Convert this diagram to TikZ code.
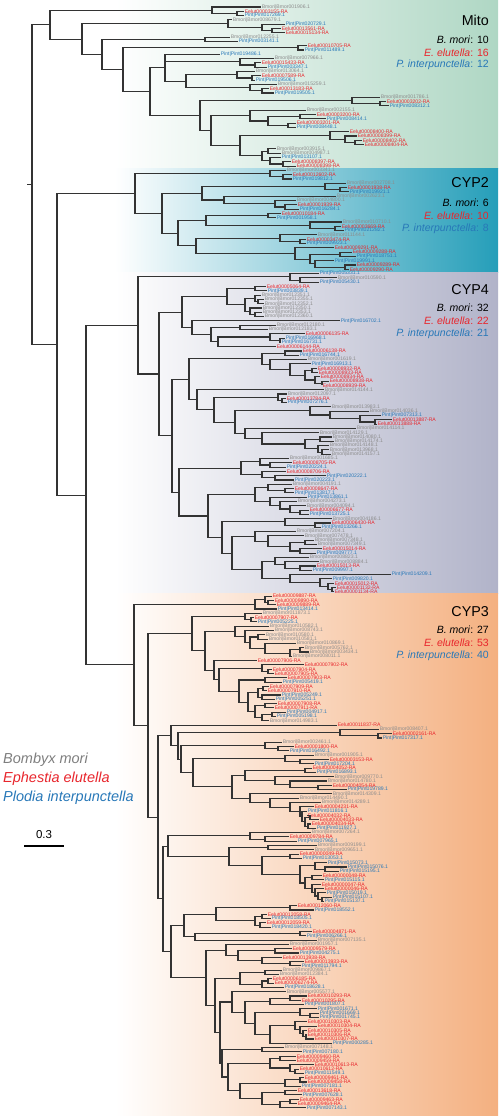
\documentclass[tikz,border=0pt]{standalone}
\usepackage{fontspec}
\setmainfont{Liberation Sans}
\usetikzlibrary{positioning}

\definecolor{colB}{HTML}{8C8C8C}
\definecolor{colE}{HTML}{E8262D}
\definecolor{colP}{HTML}{2878B8}
\definecolor{bandMito}{HTML}{AFD7C4}
\definecolor{bandCYPtwo}{HTML}{259EB9}
\definecolor{bandCYPfour}{HTML}{B1B3C9}
\definecolor{bandCYPthree}{HTML}{F4B080}

% tree helpers: leaves get y from a counter, clades sit midway between first and last child
\newcounter{leafno}
\newcounter{nodeno}
\newcommand\lblB[1]{Bmori|Bmor#1.1}
\newcommand\lblE[1]{Eelut#1-RA}
\newcommand\lblP[1]{Pint|Pint#1.1}
\newcommand\Addkid[2]{%
  \ifx\cfirst\empty
    \edef\cmin{#2}\def\cfirst{x}\edef\kids{#1}%
  \else
    \edef\kids{\kids,#1}%
  \fi
  \edef\cmax{#2}}
\newcommand\Lf[3]{%
  \stepcounter{leafno}%
  \pgfmathsetmacro\ly{7+4.3*(\theleafno-1)}%
  \coordinate (t\theleafno) at (#1,\ly);
  \node[leaf, text=col#2] (L\theleafno) at (t\theleafno) {\csname lbl#2\endcsname{#3}};
  \Addkid{t\theleafno}{\ly}}
\newcommand\Cl[2]{%
  \begingroup
    \stepcounter{nodeno}%
    \edef\myid{n\thenodeno}%
    \def\cfirst{}\def\kids{}%
    #2%
    \pgfmathsetmacro\myy{(\cmin+\cmax)/2}%
    \coordinate (\myid) at (#1,\myy);
    \foreach \k in \kids {\draw[branch] (\myid) |- (\k);}%
    \xdef\rety{\myy}\xdef\retname{\myid}%
  \endgroup
  \Addkid{\retname}{\rety}}

\begin{document}
\begin{tikzpicture}[x=1pt,y=-1pt]
% Define styles
\tikzstyle{branch} = [line width=1.1pt, black!80]
\tikzstyle{leaf} = [inner sep=0.6pt, anchor=west, font=\fontsize{5.1}{5.5}\selectfont]
\tikzstyle{head} = [anchor=east, inner sep=0pt, font=\fontsize{14.3}{16}\selectfont]
\tikzstyle{countlbl} = [anchor=east, inner sep=0pt, font=\fontsize{10.5}{12}\selectfont]
\tikzstyle{legendlbl} = [anchor=west, inner sep=0pt, font=\fontsize{14.5}{16}\selectfont\itshape]

\useasboundingbox (0,0) rectangle (498,1116);

% Coloured bands
\shade[left color=white, right color=bandMito] (115,0) rectangle (498,168);
\shade[left color=white, right color=bandCYPtwo] (115,168) rectangle (498,272);
\shade[left color=white, right color=bandCYPfour] (115,272) rectangle (498,593.5);
\shade[left color=white, right color=bandCYPthree] (115,593.5) rectangle (498,1116);

% Family labels
\node[head] (mito) at (489,20) {Mito};
\node[countlbl] (mitoB) at (489,40) {\textit{B. mori}: 10};
\node[countlbl, text=colE] (mitoE) at (489,52.5) {\textit{E. elutella}: 16};
\node[countlbl, text=colP] (mitoP) at (489,65) {\textit{P. interpunctella}: 12};
\node[head] (cyptwo) at (489,183) {CYP2};
\node[countlbl] (cyptwoB) at (489,203) {\textit{B. mori}: 6};
\node[countlbl, text=colE] (cyptwoE) at (489,216) {\textit{E. elutella}: 10};
\node[countlbl, text=colP] (cyptwoP) at (489,229) {\textit{P. interpunctella}: 8};
\node[head] (cypfour) at (489,290) {CYP4};
\node[countlbl] (cypfourB) at (489,308) {\textit{B. mori}: 32};
\node[countlbl, text=colE] (cypfourE) at (489,321) {\textit{E. elutella}: 22};
\node[countlbl, text=colP] (cypfourP) at (489,333.5) {\textit{P. interpunctella}: 21};
\node[head] (cypthree) at (489,612) {CYP3};
\node[countlbl] (cypthreeB) at (489,630) {\textit{B. mori}: 27};
\node[countlbl, text=colE] (cypthreeE) at (489,643) {\textit{E. elutella}: 53};
\node[countlbl, text=colP] (cypthreeP) at (489,656) {\textit{P. interpunctella}: 40};

% Legend and scale
\node[legendlbl, text=colB!90!black] (lgB) at (3,760) {Bombyx mori};
\node[legendlbl, text=colE] (lgE) at (3,779) {Ephestia elutella};
\node[legendlbl, text=colP] (lgP) at (3,798) {Plodia interpunctella};
\node[inner sep=0pt, font=\fontsize{11.5}{12}\selectfont] (scl) at (44,835) {0.3};
\coordinate (sbl) at (24,846);
\coordinate (sbr) at (64,846);
\draw[line width=1.1pt] (sbl) -- (sbr);

% Tree
\def\cfirst{}\def\kids{}
\Cl{32}{%
  % Mito
  \Cl{50}{%
    \Cl{212}{\Lf{261}{B}{001906}\Cl{237}{\Lf{244}{E}{00003155}\Lf{244}{P}{017269}}}
    \Cl{82}{%
      \Cl{228}{\Lf{232}{B}{008679}\Cl{262}{\Lf{285}{P}{020729}\Cl{272}{\Lf{281}{E}{00013561}\Lf{285}{E}{00015134}}}}
      \Cl{102}{%
        \Cl{205}{\Lf{230}{B}{012255}\Lf{238}{P}{003141}}
        \Cl{123}{%
          \Cl{298}{\Lf{307}{E}{00010705}\Lf{304}{P}{011489}}
          \Cl{150}{%
            \Cl{165}{%
              \Lf{220}{P}{019486}
              \Cl{240}{\Lf{274}{B}{007966}\Cl{255}{\Lf{261}{E}{00015433}\Lf{267}{P}{003347}}}
              \Cl{186}{%
                \Cl{237}{\Lf{255}{B}{013064}\Cl{252}{\Lf{261}{E}{00007589}\Lf{255}{P}{019506}}}
                \Cl{250}{\Lf{277}{B}{015259}\Cl{262}{\Lf{269}{E}{00013183}\Lf{274}{P}{019505}}}
              }%
            }%
            \Cl{200}{%
              \Cl{352}{\Lf{380}{B}{001786}\Cl{380}{\Lf{386}{E}{00003202}\Lf{389}{P}{008312}}}
              \Cl{211}{%
                \Cl{250}{\Lf{306}{B}{002155}\Cl{268}{\Cl{300}{\Lf{316}{E}{00003200}\Lf{326}{P}{008414}}\Cl{288}{\Lf{296}{E}{00003201}\Lf{296}{P}{008448}}}}
                \Cl{240}{%
                  \Cl{330}{\Lf{349}{E}{00008400}\Cl{345}{\Lf{357}{E}{00008399}\Cl{355}{\Lf{362}{E}{00008402}\Lf{364}{E}{00008404}}}}
                  \Cl{262}{\Cl{268}{\Lf{276}{B}{003915}\Lf{281}{B}{004987}}\Cl{270}{\Lf{281}{P}{013107}\Cl{283}{\Lf{291}{E}{00008397}\Lf{296}{E}{00008398}}}}
                }%
              }%
            }%
          }%
        }%
      }%
    }%
  }%
  \Cl{57}{%
    % CYP2
    \Cl{135}{%
      \Cl{270}{\Lf{286}{B}{003341}\Cl{283}{\Lf{292}{E}{00012602}\Lf{292}{P}{019812}}}
      \Cl{162}{%
        \Cl{202}{%
          \Cl{325}{\Lf{346}{B}{002708}\Cl{340}{\Lf{347}{E}{00001938}\Lf{349}{P}{019921}}}
          \Cl{224}{\Lf{336}{B}{002623}\Cl{275}{\Lf{296}{B}{004800}\Cl{285}{\Lf{297}{E}{00001939}\Lf{299}{P}{016284}}}}
        }%
        \Cl{178}{%
          \Cl{206}{\Cl{268}{\Lf{281}{E}{00010184}\Lf{276}{P}{001958}}\Cl{310}{\Lf{342}{B}{010710}\Cl{335}{\Lf{341}{E}{00003669}\Lf{344}{P}{021282}}}}
          \Cl{196}{%
            \Cl{280}{\Lf{317}{B}{011144}\Cl{300}{\Lf{306}{E}{00003474}\Lf{306}{P}{009923}}}
            \Cl{295}{\Lf{334}{E}{00009291}\Cl{310}{\Cl{340}{\Lf{352}{E}{00009288}\Lf{356}{P}{018751}}\Cl{315}{\Lf{334}{P}{019991}\Cl{345}{\Lf{356}{E}{00009289}\Lf{349}{E}{00009290}}}}}
          }%
        }%
      }%
    }%
    \Cl{86}{%
      % CYP4
      \Cl{138}{%
        \Cl{290}{\Lf{319}{P}{005331}\Cl{300}{\Lf{337}{B}{010590}\Lf{319}{P}{005430}}}
        \Cl{159}{%
          \Cl{182}{%
            \Cl{227}{\Cl{255}{\Lf{266}{E}{00005064}\Lf{267}{P}{003839}}\Cl{245}{\Cl{255}{\Lf{261}{B}{012351}\Cl{258}{\Lf{264}{B}{012355}\Lf{264}{B}{012352}}}\Cl{250}{\Lf{262}{B}{012350}\Cl{255}{\Lf{262}{B}{012353}\Lf{264}{B}{012360}}}}}
            \Cl{192}{\Lf{340}{P}{016702}\Cl{211}{\Cl{240}{\Lf{276}{B}{012180}\Lf{268}{B}{012183}}\Cl{218}{\Cl{270}{\Lf{305}{E}{00006135}\Cl{280}{\Lf{285}{P}{016968}\Lf{281}{P}{016731}}}\Lf{276}{E}{00006144}}}}
          }%
          \Cl{172}{%
            \Cl{189}{%
              \Cl{262}{\Cl{285}{\Lf{302}{E}{00006138}\Lf{299}{P}{016744}}\Cl{270}{\Lf{307}{B}{001619}\Cl{290}{\Lf{311}{P}{016913}\Cl{305}{\Cl{312}{\Lf{317}{E}{00008932}\Lf{318}{E}{00008933}}\Cl{315}{\Lf{320}{E}{00008934}\Cl{322}{\Lf{329}{E}{00008938}\Lf{322}{E}{00008939}}}}}}}
              \Cl{197}{%
                \Lf{324}{B}{014144}
                \Cl{214}{%
                  \Cl{278}{\Lf{287}{B}{012097}\Cl{282}{\Lf{286}{E}{00013784}\Lf{287}{P}{007276}}}
                  \Cl{235}{%
                    \Cl{310}{\Lf{331}{B}{013983}\Cl{330}{\Lf{369}{B}{014036}\Cl{360}{\Lf{381}{P}{007313}\Cl{375}{\Lf{392}{E}{00013887}\Lf{377}{E}{00013888}}}}}
                    \Cl{245}{\Lf{356}{B}{014114}\Cl{262}{\Lf{319}{B}{014129}\Cl{305}{\Cl{320}{\Lf{332}{B}{014080}\Lf{334}{B}{014174}}\Cl{318}{\Lf{329}{B}{014148}\Cl{322}{\Lf{329}{B}{013968}\Lf{331}{B}{014157}}}}}}
                  }%
                }%
              }%
            }%
            \Cl{179}{%
              \Cl{241}{\Cl{260}{\Lf{289}{B}{001685}\Cl{270}{\Lf{292}{E}{00008705}\Lf{286}{P}{020224}}}\Cl{262}{\Lf{286}{E}{00008706}\Cl{275}{\Lf{326}{P}{020222}\Lf{294}{P}{020223}}}}
              \Cl{208}{%
                \Cl{255}{\Cl{268}{\Lf{292}{B}{004191}\Cl{285}{\Lf{294}{E}{00008647}\Lf{294}{P}{013817}}}\Cl{270}{\Lf{307}{P}{013861}\Cl{280}{\Lf{297}{B}{004273}\Cl{290}{\Lf{306}{B}{004094}\Cl{300}{\Lf{309}{E}{00006677}\Lf{309}{P}{013725}}}}}}
                \Cl{222}{%
                  \Cl{285}{\Lf{332}{B}{004186}\Cl{315}{\Lf{331}{E}{00006430}\Lf{321}{P}{013266}}}
                  \Cl{232}{%
                    \Cl{255}{\Lf{296}{B}{007204}\Cl{268}{\Lf{304}{B}{007478}\Cl{290}{\Cl{305}{\Lf{314}{B}{007348}\Lf{317}{B}{007349}}\Cl{300}{\Lf{322}{E}{00015014}\Lf{316}{P}{009777}}}}}
                    \Cl{262}{\Cl{275}{\Lf{309}{B}{008823}\Cl{285}{\Lf{319}{B}{008884}\Cl{300}{\Lf{316}{E}{00015013}\Lf{312}{P}{009997}}}}\Cl{290}{\Lf{391}{P}{014209}\Cl{320}{\Lf{332}{P}{009820}\Cl{328}{\Lf{334}{E}{00015012}\Cl{332}{\Lf{336}{E}{00001132}\Lf{334}{E}{00001134}}}}}}
                  }%
                }%
              }%
            }%
          }%
        }%
      }%
      % CYP3
      \Cl{134}{%
        \Cl{255}{\Cl{265}{\Lf{272}{E}{00009887}\Cl{268}{\Lf{274}{E}{00009890}\Lf{276}{E}{00009889}}}\Lf{277}{P}{013414}}
        \Cl{148}{%
          \Cl{192}{%
            \Cl{245}{\Lf{262}{B}{011873}\Cl{251}{\Lf{254}{E}{00007907}\Lf{257}{P}{005225}}}
            \Cl{205}{%
              \Cl{235}{\Lf{269}{B}{010582}\Cl{245}{\Lf{274}{B}{008743}\Cl{250}{\Cl{258}{\Lf{265}{B}{010580}\Lf{268}{B}{010581}}\Cl{265}{\Lf{296}{B}{010869}\Cl{290}{\Cl{300}{\Lf{304}{B}{005762}\Lf{309}{B}{003434}}\Lf{292}{B}{008011}}}}}}
              \Cl{214}{%
                \Lf{257}{E}{00007906}
                \Cl{219}{%
                  \Cl{262}{\Lf{304}{E}{00007902}\Cl{268}{\Lf{272}{E}{00007904}\Lf{274}{E}{00007905}}}
                  \Cl{239}{%
                    \Cl{265}{\Lf{287}{E}{00007903}\Lf{282}{P}{005419}}
                    \Cl{248}{%
                      \Cl{258}{\Cl{263}{\Lf{269}{E}{00007909}\Lf{267}{E}{00007910}}\Cl{262}{\Lf{281}{P}{005249}\Lf{275}{P}{005251}}}
                      \Cl{255}{\Cl{265}{\Lf{277}{E}{00007908}\Lf{274}{E}{00007911}}\Cl{262}{\Cl{272}{\Lf{286}{P}{004917}\Lf{276}{P}{005198}}\Lf{269}{B}{014983}}}
                    }%
                  }%
                }%
              }%
            }%
          }%
          \Cl{158}{%
            \Cl{171}{%
              \Lf{337}{E}{00011837}
              \Cl{178}{%
                \Cl{340}{\Lf{379}{B}{008407}\Cl{378}{\Lf{392}{E}{00002161}\Lf{382}{P}{017317}}}
                \Cl{181}{%
                  \Cl{265}{\Lf{282}{B}{002461}\Cl{278}{\Lf{294}{E}{00001800}\Lf{289}{P}{016492}}}
                  \Cl{193}{%
                    \Cl{285}{\Lf{314}{B}{001905}\Cl{300}{\Lf{329}{E}{00003153}\Lf{314}{P}{017204}}}
                    \Cl{232}{%
                      \Cl{245}{\Cl{305}{\Lf{312}{E}{00004052}\Lf{316}{P}{016893}}\Cl{275}{\Lf{334}{B}{009770}\Cl{290}{\Lf{327}{B}{014780}\Cl{318}{\Lf{332}{E}{00004054}\Lf{347}{P}{019789}}}}}
                      \Cl{250}{\Lf{332}{B}{014309}\Cl{270}{\Lf{299}{B}{014490}\Cl{290}{\Lf{321}{B}{014289}\Cl{300}{\Lf{314}{E}{00004231}\Cl{302}{\Lf{307}{P}{011816}\Cl{305}{\Cl{310}{\Lf{307}{E}{00004032}\Lf{319}{E}{00004033}}\Cl{308}{\Lf{311}{E}{00004034}\Lf{316}{P}{011927}}}}}}}}
                    }%
                  }%
                }%
              }%
            }%
            \Cl{163}{%
              \Cl{168}{%
                \Cl{250}{\Lf{311}{B}{007264}\Cl{265}{\Lf{289}{E}{00009784}\Lf{297}{P}{007965}}}
                \Cl{229}{%
                  \Cl{268}{\Lf{317}{B}{009199}\Lf{314}{B}{009651}}
                  \Cl{262}{%
                    \Cl{290}{\Lf{299}{E}{00000049}\Lf{302}{P}{013053}}
                    \Cl{300}{\Cl{315}{\Lf{327}{P}{015073}\Cl{325}{\Lf{347}{P}{015076}\Lf{339}{P}{015195}}}\Cl{305}{\Cl{312}{\Lf{322}{E}{00000048}\Lf{324}{P}{015115}}\Cl{312}{\Lf{321}{E}{00000047}\Cl{315}{\Lf{324}{E}{00000046}\Cl{318}{\Lf{326}{P}{015019}\Cl{322}{\Lf{332}{P}{015107}\Lf{324}{P}{015137}}}}}}}
                  }%
                }%
              }%
              \Cl{171}{%
                \Cl{184}{%
                  \Cl{216}{\Cl{290}{\Lf{297}{E}{00012060}\Lf{314}{P}{018552}}\Cl{255}{\Cl{262}{\Lf{267}{E}{00012058}\Lf{271}{P}{018505}}\Cl{260}{\Lf{266}{E}{00012059}\Lf{271}{P}{018420}}}}
                  \Cl{195}{\Cl{300}{\Lf{312}{E}{00004871}\Lf{306}{P}{006266}}\Lf{317}{B}{007135}}
                }%
                \Cl{206}{%
                  \Cl{226}{\Lf{289}{B}{001957}\Cl{238}{\Cl{275}{\Lf{292}{E}{00009579}\Lf{299}{P}{004275}}\Cl{262}{\Lf{282}{E}{00013938}\Cl{290}{\Lf{304}{E}{00013933}\Lf{301}{P}{011794}}}}}
                  \Cl{215}{%
                    \Cl{240}{\Cl{265}{\Lf{282}{B}{009867}\Lf{279}{B}{012384}}\Cl{262}{\Cl{268}{\Lf{272}{E}{00006185}\Lf{274}{E}{00006274}}\Lf{284}{P}{018628}}}
                    \Cl{220}{%
                      \Cl{232}{\Lf{286}{B}{005577}\Cl{245}{\Cl{270}{\Cl{290}{\Lf{307}{E}{00010293}\Lf{301}{E}{00010295}}\Lf{304}{P}{001807}}\Cl{255}{\Cl{300}{\Lf{317}{P}{001671}\Cl{310}{\Lf{319}{P}{001669}\Lf{319}{P}{001745}}}\Cl{270}{\Cl{295}{\Lf{307}{E}{00010303}\Cl{300}{\Lf{317}{E}{00010304}\Cl{303}{\Lf{307}{E}{00010305}\Cl{306}{\Lf{307}{E}{00010306}\Lf{314}{E}{00010307}}}}}\Lf{332}{P}{000285}}}}}
                      \Cl{222}{\Cl{262}{\Lf{284}{B}{007148}\Lf{302}{P}{007180}}\Cl{228}{\Cl{270}{\Cl{280}{\Lf{296}{E}{00009460}\Lf{296}{E}{00009459}}\Cl{290}{\Lf{314}{E}{00010613}\Cl{295}{\Lf{299}{E}{00010612}\Lf{304}{P}{011549}}}}\Cl{240}{\Cl{285}{\Cl{300}{\Lf{304}{E}{00009461}\Lf{307}{E}{00009458}}\Lf{301}{P}{007181}}\Cl{262}{\Cl{285}{\Lf{297}{E}{00013618}\Lf{302}{P}{007628}}\Cl{280}{\Cl{290}{\Lf{299}{E}{00009463}\Lf{297}{E}{00009464}}\Lf{306}{P}{007143}}}}}}
                    }%
                  }%
                }%
              }%
            }%
          }%
        }%
      }%
    }%
  }%
}

% Root stub
\coordinate (root) at ([xshift=-5pt]n1);
\draw[branch] (root) -- (n1);
\end{tikzpicture}
\end{document}
